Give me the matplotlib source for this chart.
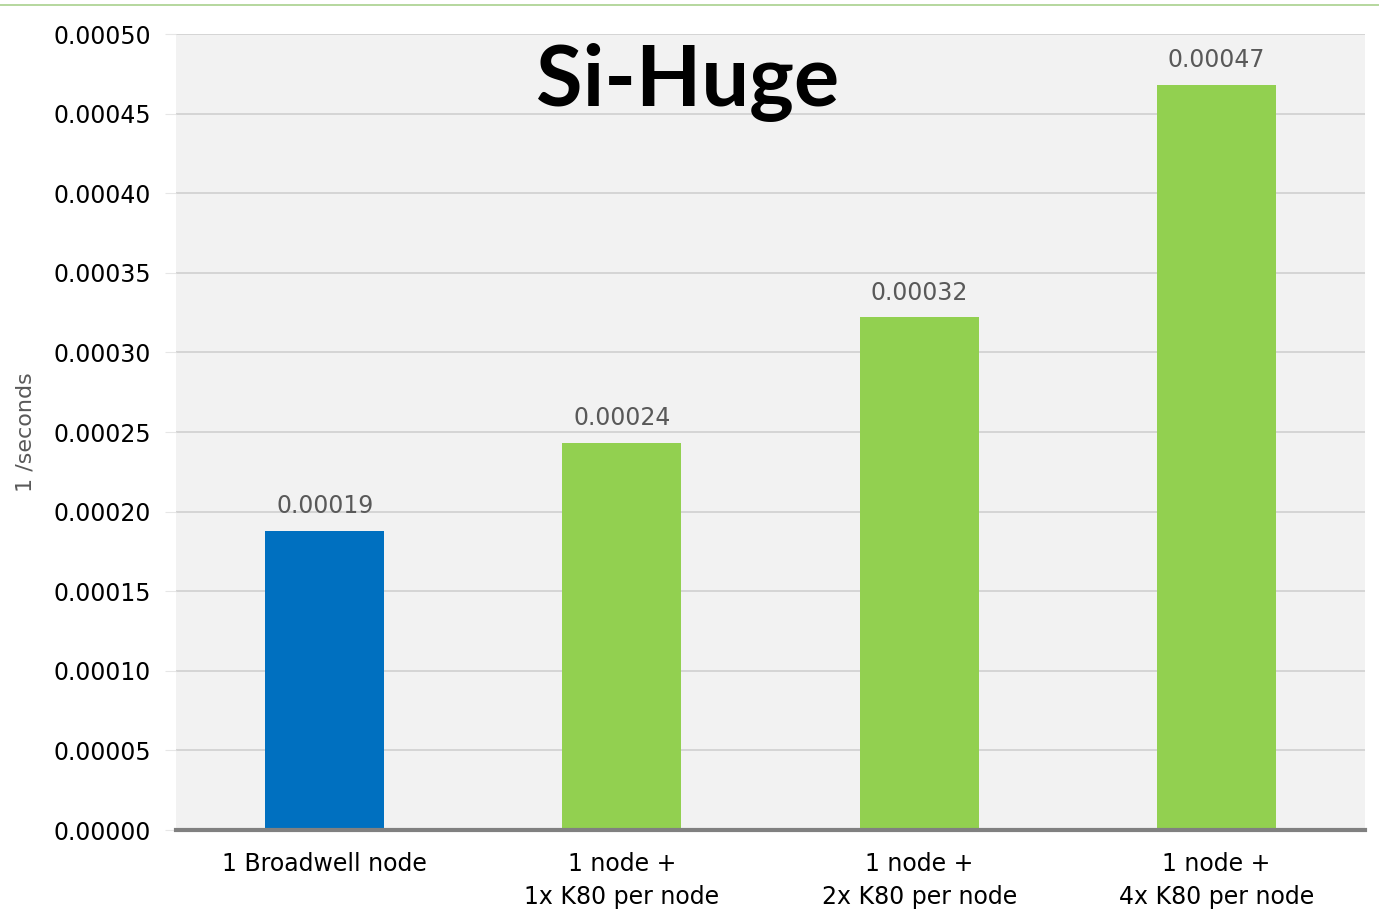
import matplotlib.pyplot as plt
from matplotlib.lines import Line2D

categories = ["1 Broadwell node", "1 node +\n1x K80 per node",
              "1 node +\n2x K80 per node", "1 node +\n4x K80 per node"]
values = [0.000188, 0.000243, 0.000322, 0.000468]
labels = ["0.00019", "0.00024", "0.00032", "0.00047"]
colors = ["#0070C0", "#92D050", "#92D050", "#92D050"]
yticks = [i * 0.00005 for i in range(11)]

fig = plt.figure(figsize=(13.79, 9.17), dpi=100)
ax = fig.add_axes([176 / 1379, 1 - 830 / 917, (1365 - 176) / 1379, (830 - 34) / 917])
ax.set_facecolor("#f2f2f2")

x = range(len(categories))
bars = ax.bar(x, values, width=0.4, color=colors, zorder=3)
for b, lab in zip(bars, labels):
    ax.text(b.get_x() + b.get_width() / 2, b.get_height() + 0.000008, lab,
            ha="center", va="bottom", fontsize=17, color="#595959")

ax.set_xlim(-0.5, 3.5)
ax.set_ylim(0, 0.0005)
ax.set_yticks(yticks)
ax.set_yticklabels([f"{t:.5f}" for t in yticks], fontsize=17)
ax.set_xticks(list(x))
ax.set_xticklabels(categories, fontsize=17, linespacing=1.45)
ax.tick_params(axis="x", length=0, pad=16)
ax.tick_params(axis="y", length=8, color="#e6e6e6", pad=10)
ax.grid(axis="y", color="#d0d0d0", linewidth=1.2, zorder=0)
for s in ["left", "right", "top"]:
    ax.spines[s].set_visible(False)
ax.spines["bottom"].set_color("#808080")
ax.spines["bottom"].set_linewidth(3)
ax.spines["bottom"].set_zorder(4)

ax.set_ylabel("1 /seconds", fontsize=16, color="#595959")
ax.yaxis.set_label_coords(-0.118, 0.5)

ax.text(0.43, 0.99, "Si-Huge", transform=ax.transAxes, ha="center", va="top",
        fontsize=61, fontweight="bold", family="Lato", zorder=5)

fig.add_artist(Line2D([0, 1], [1 - 5 / 917, 1 - 5 / 917], color="#a9d18e",
                      linewidth=1.2, transform=fig.transFigure))

fig.savefig("out.png", dpi=100)
